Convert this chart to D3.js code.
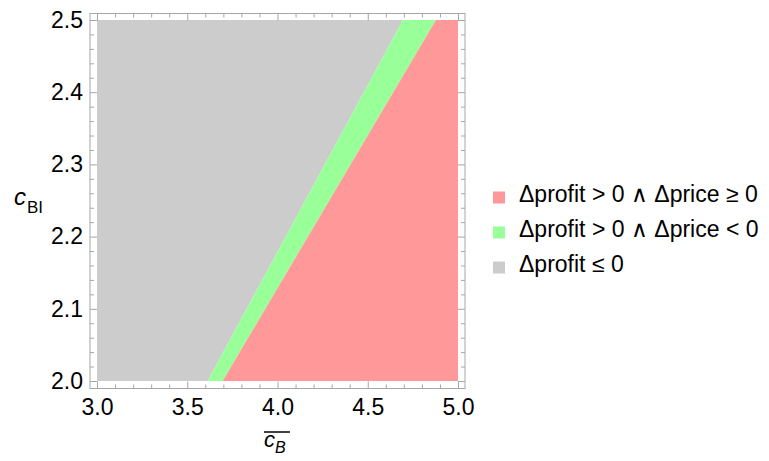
<!DOCTYPE html>
<html><head><meta charset="utf-8">
<script src="https://cdn.jsdelivr.net/npm/d3@7"></script>
<style>
body{margin:0;background:#fff;}
text{font-family:"Liberation Sans",Arial,sans-serif;}
</style></head>
<body><svg id="c" width="769" height="461"></svg>
<script>
// ---- data ----
const yBounds = [2.0, 2.5];                 // c_BI values at bottom / top
const grayGreenX = [3.613, 4.695];          // boundary Δprofit = 0
const greenRedX = [3.696, 4.878];           // boundary Δprice = 0
const xDomain = [3.0, 5.0];
const yDomain = [2.0, 2.5];
const xMajor = [3.0, 3.5, 4.0, 4.5, 5.0];
const yMajor = [2.0, 2.1, 2.2, 2.3, 2.4, 2.5];
const legendLabels = ["Δprofit > 0 ∧ Δprice ≥ 0", "Δprofit > 0 ∧ Δprice < 0", "Δprofit ≤ 0"];
const legendColors = ["#ff9999", "#99ff99", "#cccccc"];

const svg = d3.select("#c");
const x = d3.scaleLinear().domain(xDomain).range([97, 458]);
const y = d3.scaleLinear().domain(yDomain).range([381, 20]);

const rows = yBounds.map((v, i) => ({y: v, g: grayGreenX[i], r: greenRedX[i]}));
const area = (f0, f1) => d3.area().y(d => y(d.y)).x0(d => x(f0(d))).x1(d => x(f1(d)));

svg.append("path").datum(rows).attr("fill", legendColors[2])
  .attr("d", area(() => xDomain[0], d => d.g));
svg.append("path").datum(rows).attr("fill", legendColors[1])
  .attr("d", area(d => d.g, d => d.r));
svg.append("path").datum(rows).attr("fill", legendColors[0])
  .attr("d", area(d => d.r, () => xDomain[1]));

// frame
const fx0 = 90, fx1 = 465, fy0 = 13.5, fy1 = 388.5;
const frameColor = "#a6a6a6";
svg.append("rect").attr("x", fx0).attr("y", fy0).attr("width", fx1 - fx0).attr("height", fy1 - fy0)
  .attr("fill", "none").attr("stroke", frameColor).attr("stroke-width", 1);

const xMinor = d3.range(30, 51).map(v => v / 10).filter(v => !xMajor.some(m => Math.abs(m - v) < 1e-9));
const yMinor = d3.range(100, 126).map(v => v / 50).filter(v => !yMajor.some(m => Math.abs(m - v) < 1e-9));

function styleAxis(g, showText) {
  g.select(".domain").remove();
  g.selectAll(".tick line").attr("stroke", frameColor);
  g.selectAll(".tick text").attr("fill", "#000").attr("font-size", 23)
   .attr("font-family", "Liberation Sans, Arial, sans-serif");
  if (!showText) g.selectAll(".tick text").remove();
}
// bottom
svg.append("g").attr("transform", `translate(0,${fy1})`)
  .call(d3.axisBottom(x).tickValues(xMajor).tickFormat(d3.format(".1f")).tickSize(-7).tickPadding(10))
  .call(g => styleAxis(g, true));
svg.append("g").attr("transform", `translate(0,${fy1})`)
  .call(d3.axisBottom(x).tickValues(xMinor).tickSize(-4)).call(g => styleAxis(g, false));
// top
svg.append("g").attr("transform", `translate(0,${fy0})`)
  .call(d3.axisTop(x).tickValues(xMajor).tickSize(-7)).call(g => styleAxis(g, false));
svg.append("g").attr("transform", `translate(0,${fy0})`)
  .call(d3.axisTop(x).tickValues(xMinor).tickSize(-4)).call(g => styleAxis(g, false));
// left
svg.append("g").attr("transform", `translate(${fx0},0)`)
  .call(d3.axisLeft(y).tickValues(yMajor).tickFormat(d3.format(".1f")).tickSize(-7).tickPadding(7))
  .call(g => styleAxis(g, true));
svg.append("g").attr("transform", `translate(${fx0},0)`)
  .call(d3.axisLeft(y).tickValues(yMinor).tickSize(-4)).call(g => styleAxis(g, false));
// right
svg.append("g").attr("transform", `translate(${fx1},0)`)
  .call(d3.axisRight(y).tickValues(yMajor).tickSize(-7)).call(g => styleAxis(g, false));
svg.append("g").attr("transform", `translate(${fx1},0)`)
  .call(d3.axisRight(y).tickValues(yMinor).tickSize(-4)).call(g => styleAxis(g, false));

// y label c_BI
const yl = svg.append("text").attr("x", 14).attr("y", 205).attr("fill", "#000");
yl.append("tspan").attr("font-style", "italic").attr("font-size", 24).text("c");
yl.append("tspan").attr("font-size", 17).attr("dy", 8).attr("dx", 1).text("BI");

// x label overline c_B
const xl = svg.append("text").attr("x", 264).attr("y", 447).attr("fill", "#000");
xl.append("tspan").attr("font-style", "italic").attr("font-size", 22).text("c");
xl.append("tspan").attr("font-style", "italic").attr("font-size", 16).attr("dy", 6).text("B");
svg.append("line").attr("x1", 264).attr("x2", 290).attr("y1", 432).attr("y2", 432)
  .attr("stroke", "#000").attr("stroke-width", 1.5);

// legend
const lg = svg.append("g");
legendLabels.forEach((lab, i) => {
  const by = 202 + i * 35;
  lg.append("rect").attr("x", 493).attr("y", by - 10.5).attr("width", 12).attr("height", 12)
    .attr("fill", legendColors[i]);
  lg.append("text").attr("x", 519).attr("y", by).attr("font-size", 23).attr("fill", "#000").text(lab);
});
</script></body></html>
